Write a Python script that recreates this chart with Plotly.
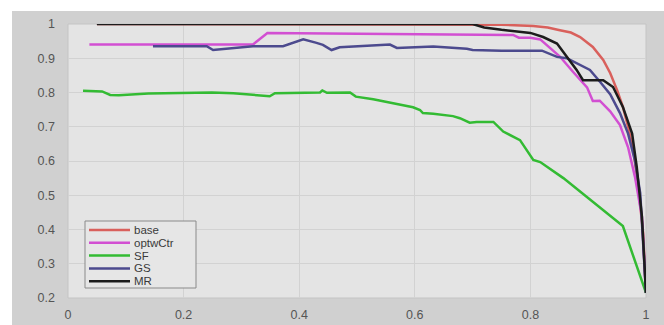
import plotly.graph_objects as go

# ---- data ----
names = ["base", "optwCtr", "SF", "GS", "MR"]
colors = ["#d9605c", "#d24fd2", "#33bb33", "#4c4a8e", "#1c1c1c"]

base_x = [0.05, 0.70, 0.75, 0.805, 0.83, 0.851, 0.87, 0.886, 0.908, 0.926, 0.938, 0.95, 0.96, 0.969, 0.978, 0.986, 0.995, 1.0]
base_y = [1.0, 1.0, 0.998, 0.994, 0.99, 0.982, 0.975, 0.962, 0.933, 0.895, 0.857, 0.807, 0.758, 0.70, 0.632, 0.535, 0.39, 0.215]

opt_x = [0.037, 0.32, 0.345, 0.5, 0.77, 0.78, 0.80, 0.817, 0.834, 0.851, 0.874, 0.898, 0.908, 0.92, 0.938, 0.955, 0.969, 0.981, 0.993, 1.0]
opt_y = [0.94, 0.94, 0.974, 0.971, 0.968, 0.96, 0.96, 0.955, 0.93, 0.905, 0.86, 0.815, 0.775, 0.776, 0.745, 0.705, 0.64, 0.553, 0.437, 0.215]

sf_x = [0.026, 0.059, 0.073, 0.088, 0.139, 0.249, 0.286, 0.322, 0.349, 0.358, 0.40, 0.436, 0.44, 0.448, 0.488, 0.498,
        0.528, 0.54, 0.574, 0.597, 0.609, 0.614, 0.632, 0.666, 0.678, 0.695, 0.707, 0.736, 0.753, 0.782, 0.805, 0.817,
        0.857, 0.955, 0.96, 1.0]
sf_y = [0.805, 0.803, 0.793, 0.792, 0.797, 0.80, 0.798, 0.793, 0.789, 0.798, 0.799, 0.80, 0.806, 0.799, 0.80, 0.788,
        0.78, 0.776, 0.766, 0.757, 0.749, 0.74, 0.738, 0.731, 0.725, 0.712, 0.714, 0.714, 0.686, 0.661, 0.603, 0.597,
        0.55, 0.416, 0.41, 0.215]

gs_x = [0.147, 0.2, 0.24, 0.251, 0.30, 0.32, 0.372, 0.407, 0.43, 0.441, 0.456, 0.47, 0.557, 0.569, 0.632, 0.69, 0.70,
        0.75, 0.82, 0.846, 0.863, 0.88, 0.903, 0.92, 0.938, 0.955, 0.969, 0.981, 0.99, 1.0]
gs_y = [0.935, 0.934, 0.935, 0.924, 0.932, 0.935, 0.935, 0.955, 0.945, 0.939, 0.924, 0.932, 0.94, 0.93, 0.934, 0.928,
        0.924, 0.922, 0.922, 0.904, 0.90, 0.886, 0.866, 0.832, 0.795, 0.74, 0.68, 0.60, 0.506, 0.215]

mr_x = [0.05, 0.70, 0.72, 0.75, 0.80, 0.822, 0.846, 0.863, 0.88, 0.891, 0.926, 0.943, 0.96, 0.976, 0.984, 0.993, 1.0]
mr_y = [1.0, 1.0, 0.99, 0.983, 0.974, 0.962, 0.943, 0.904, 0.866, 0.836, 0.836, 0.816, 0.758, 0.68, 0.583, 0.437, 0.215]

xs = [base_x, opt_x, sf_x, gs_x, mr_x]
ys = [base_y, opt_y, sf_y, gs_y, mr_y]

x_ticks = [0, 0.2, 0.4, 0.6, 0.8, 1]
y_ticks = [0.2, 0.3, 0.4, 0.5, 0.6, 0.7, 0.8, 0.9, 1]

# ---- figure ----
W, H = 664, 325
ML, MR_, MT, MB = 68, 18, 24, 27
pw, ph = W - ML - MR_, H - MT - MB


def px(x):
    return (x - ML) / pw


def py(y):
    return (H - MB - y) / ph


fig = go.Figure()
for n, c, x, y in zip(names, colors, xs, ys):
    fig.add_trace(go.Scatter(x=x, y=y, mode="lines", name=n,
                             line=dict(color=c, width=2.5), showlegend=False))

shapes = [
    # photographed grey background
    dict(type="rect", xref="paper", yref="paper", x0=px(12), x1=px(664), y0=py(325), y1=py(11),
         fillcolor="#d0d0d0", line=dict(width=0), layer="below"),
    # lighter axes area
    dict(type="rect", xref="paper", yref="paper", x0=0, x1=1, y0=0, y1=1,
         fillcolor="#e4e4e4", line=dict(color="#c4c4c4", width=1), layer="below"),
    # legend box
    dict(type="rect", xref="paper", yref="paper", x0=px(85), x1=px(196), y0=py(288), y1=py(221),
         fillcolor="#e6e6e6", line=dict(color="#8a8a8a", width=1), layer="above"),
]
annotations = []
row0, step = 230, 12.8
for i, (n, c) in enumerate(zip(names, colors)):
    yy = row0 + i * step
    shapes.append(dict(type="line", xref="paper", yref="paper", x0=px(89), x1=px(130), y0=py(yy), y1=py(yy),
                       line=dict(color=c, width=2.5), layer="above"))
    annotations.append(dict(x=px(133), y=py(yy), xref="paper", yref="paper", text=n, showarrow=False,
                            xanchor="left", yanchor="middle", height=12, borderpad=0,
                            font=dict(family="Liberation Sans, Arial", size=11.5, color="#3a3a3a")))

fig.update_layout(
    width=W, height=H,
    margin=dict(l=ML, r=MR_, t=MT, b=MB, autoexpand=False),
    paper_bgcolor="#ffffff",
    plot_bgcolor="rgba(0,0,0,0)",
    shapes=shapes,
    annotations=annotations,
    showlegend=False,
    font=dict(family="Liberation Sans, Arial", size=12.5, color="#555555"),
)
fig.update_xaxes(range=[0, 1], tickvals=x_ticks, ticktext=[f"{v:g}" for v in x_ticks],
                 showgrid=True, gridcolor="#d2d2d2", gridwidth=1, zeroline=False, automargin=False,
                 showline=False, ticks="", ticklabelstandoff=7)
fig.update_yaxes(range=[0.2, 1], tickvals=y_ticks, ticktext=[f"{v:g}" for v in y_ticks],
                 showgrid=True, gridcolor="#d2d2d2", gridwidth=1, zeroline=False, automargin=False,
                 showline=False, ticks="", ticklabelstandoff=12)

fig.write_html("out.html")
